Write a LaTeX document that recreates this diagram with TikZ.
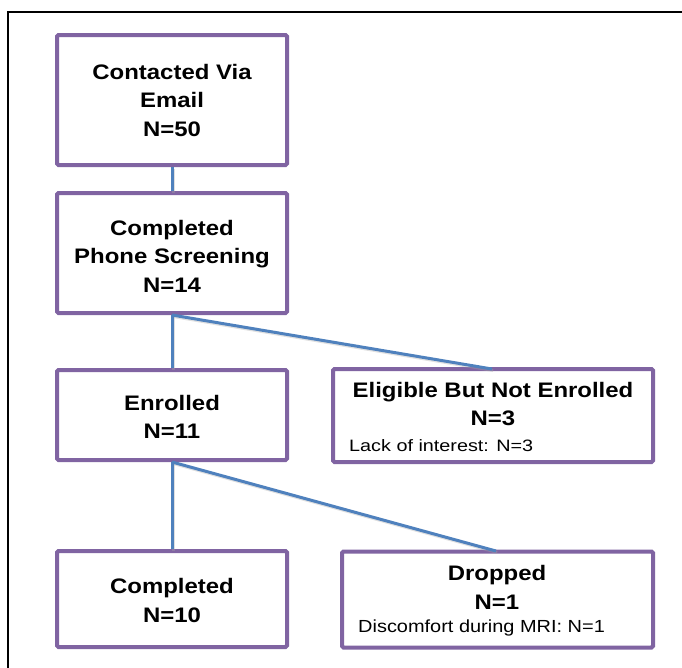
\documentclass[tikz,border=0pt]{standalone}
\usepackage{fontspec}
\setmainfont{Liberation Sans}
\newfontfamily\widefont[FakeStretch=1.14]{Liberation Sans}
\newfontfamily\widesmall[FakeStretch=1.2]{Liberation Sans}
\definecolor{boxpurple}{HTML}{8064A2}
\definecolor{linkblue}{HTML}{4F81BD}
\tikzset{
  box/.style={draw=boxpurple, line width=4pt, rounded corners=1.5pt, fill=white, inner sep=0pt},
  bigtext/.style={font=\widefont\fontsize{21}{28.5}\selectfont\bfseries, align=center, inner sep=0pt},
  smalltext/.style={font=\widesmall\fontsize{16.5}{20}\selectfont, anchor=west, inner sep=0pt},
  link/.style={draw=linkblue, line width=3pt},
  linkshadow/.style={draw=black!35, line width=3pt, opacity=0.35},
}
\begin{document}
\begin{tikzpicture}[x=1pt,y=-1pt]
\useasboundingbox (0,0) rectangle (682,667);
\draw[line width=1.5pt] (8,700) -- (8,12) -- (700,12);
% boxes
\node[box, minimum width=230pt, minimum height=130pt] (b1) at (172,100) {};
\node[box, minimum width=230pt, minimum height=120pt] (b2) at (172,253) {};
\node[box, minimum width=230pt, minimum height=90pt] (b3) at (172,415) {};
\node[box, minimum width=320pt, minimum height=93pt] (b4) at (493,415.5) {};
\node[box, minimum width=230pt, minimum height=96pt] (b5) at (172,599) {};
\node[box, minimum width=311pt, minimum height=96pt] (b6) at (497.5,599.5) {};
% connector anchors
\coordinate (e4) at (492,369);
\coordinate (e6) at (496,551);
% shadows
\begin{scope}[transform canvas={shift={(1.2pt,-1.5pt)}}]
\path[linkshadow] (b1.south) -- (b2.north);
\path[linkshadow] (b2.south) -- (b3.north);
\path[linkshadow] (b2.south) -- (e4);
\path[linkshadow] (b3.south) -- (b5.north);
\path[linkshadow] (b3.south) -- (e6);
\end{scope}
\draw[link] (b1.south) -- (b2.north);
\draw[link] (b2.south) -- (b3.north);
\draw[link] (b2.south) -- (e4);
\draw[link] (b3.south) -- (b5.north);
\draw[link] (b3.south) -- (e6);
% texts
\node[bigtext] (t1) at (172,100) {Contacted Via\\Email\\N=50};
\node[bigtext] (t2) at (172,256) {Completed\\Phone Screening\\N=14};
\node[bigtext] (t3) at (172,417) {Enrolled\\N=11};
\node[bigtext] (t4) at (493,404) {Eligible But Not Enrolled\\N=3};
\node[smalltext] (t4b) at (349,446) {Lack of interest: N=3};
\node[bigtext] (t5) at (172,600.5) {Completed\\N=10};
\node[bigtext] (t6) at (497,587.5) {Dropped\\N=1};
\node[smalltext, font=\widefont\fontsize{17.5}{20}\selectfont] (t6b) at (358,628) {Discomfort during MRI: N=1};
\end{tikzpicture}
\end{document}
